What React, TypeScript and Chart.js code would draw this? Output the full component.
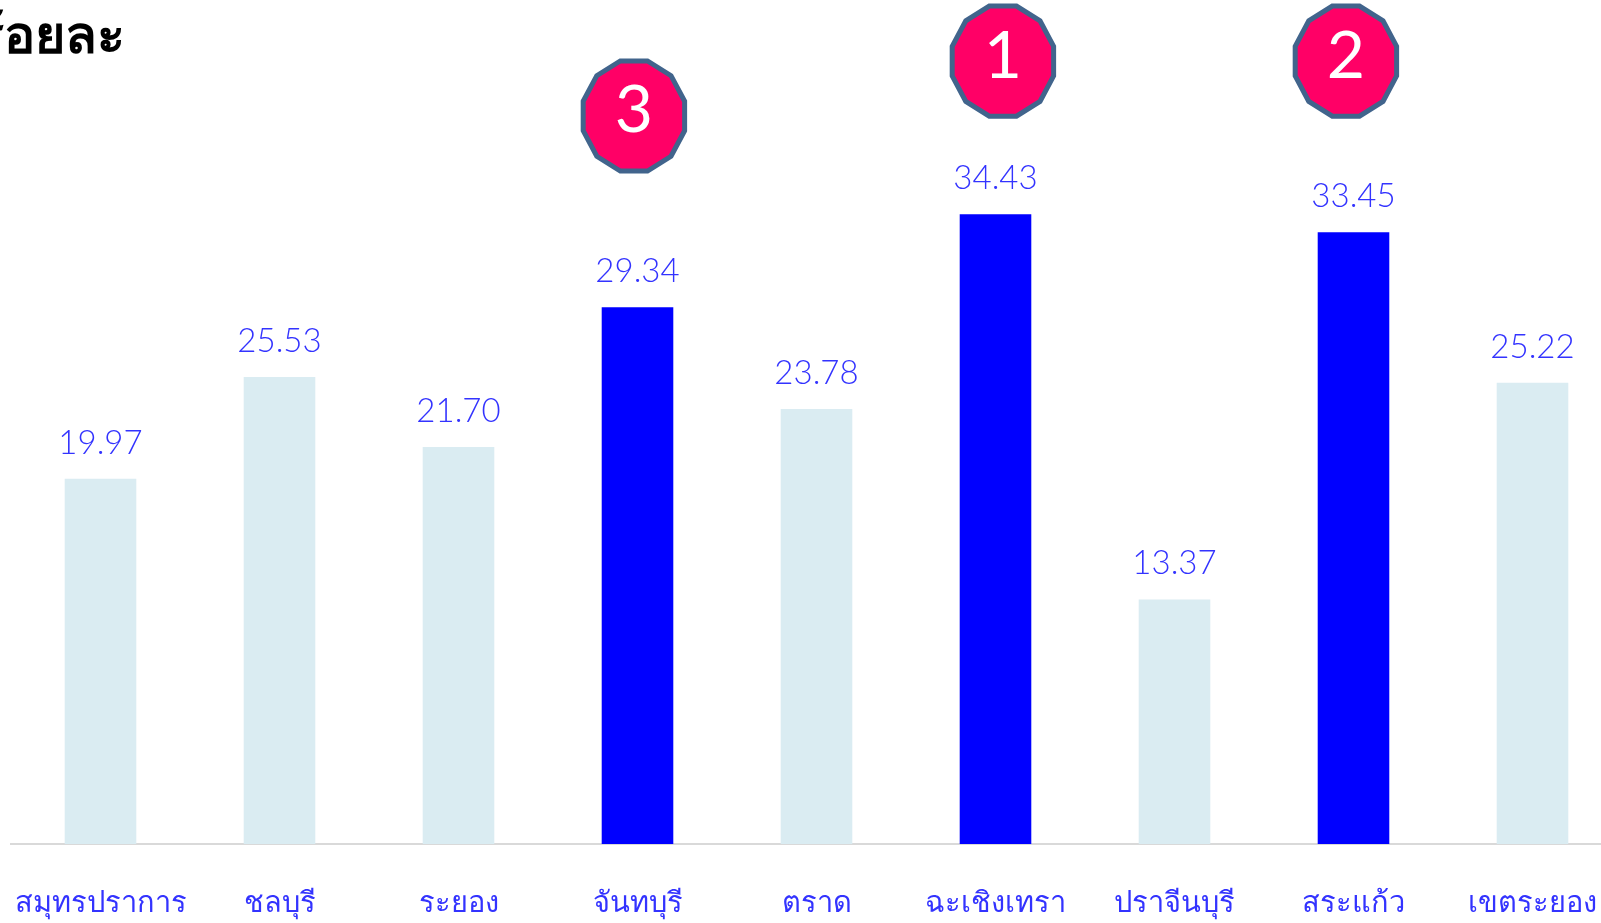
import React, { useEffect, useRef } from "react";
import { Chart, registerables } from "chart.js";

Chart.register(...registerables);

const categories = ["สมุทรปราการ", "ชลบุรี", "ระยอง", "จันทบุรี", "ตราด", "ฉะเชิงเทรา", "ปราจีนบุรี", "สระแก้ว", "เขตระยอง"];
const values = [19.97, 25.53, 21.7, 29.34, 23.78, 34.43, 13.37, 33.45, 25.22];
const highlighted = ["จันทบุรี", "ฉะเชิงเทรา", "สระแก้ว"];
const badgeCategories = ["จันทบุรี", "ฉะเชิงเทรา", "สระแก้ว"];
const badgeLabels = ["3", "1", "2"];
const badgeValues = [39.8, 42.8, 42.8];
const titleText = "ร้อยละ";

const LABEL_FONT = "Lato, Roboto, 'Noto Sans', sans-serif";

const overlay = {
  id: "overlay",
  afterDatasetsDraw(chart: any) {
    const { ctx, scales } = chart;
    const meta = chart.getDatasetMeta(0);
    ctx.save();
    // value labels
    ctx.font = `300 33px ${LABEL_FONT}`;
    ctx.fillStyle = "#3333ff";
    ctx.textAlign = "center";
    ctx.textBaseline = "alphabetic";
    meta.data.forEach((bar: any, i: number) => {
      ctx.fillText(values[i].toFixed(2), bar.x, bar.y - 25);
    });
    // rank badges
    const dx = [-3.6, 7.4, -7.6];
    badgeCategories.forEach((c, i) => {
      const x = scales.x.getPixelForValue(categories.indexOf(c)) + dx[i];
      const y = scales.y.getPixelForValue(badgeValues[i]);
      const rx = 52.5;
      const ry = 57;
      ctx.beginPath();
      for (let k = 0; k < 12; k++) {
        const a = Math.PI / 12 + (k * Math.PI) / 6;
        const px = x + rx * Math.cos(a);
        const py = y + ry * Math.sin(a);
        if (k === 0) ctx.moveTo(px, py);
        else ctx.lineTo(px, py);
      }
      ctx.closePath();
      ctx.fillStyle = "#ff0066";
      ctx.fill();
      ctx.lineWidth = 5;
      ctx.strokeStyle = "#41648c";
      ctx.stroke();
      ctx.fillStyle = "#ffffff";
      ctx.font = `400 66px ${LABEL_FONT}`;
      ctx.textAlign = "center";
      ctx.fillText(badgeLabels[i], x, y + 16.5);
    });
    // title
    ctx.fillStyle = "#000000";
    ctx.font = "bold 52px 'Noto Sans', sans-serif";
    ctx.textAlign = "right";
    ctx.fillText(titleText, 125, 53);
    ctx.restore();
  },
};

export default function App() {
  const ref = useRef<HTMLCanvasElement>(null);
  useEffect(() => {
    document.body.style.margin = "0";
    const chart = new Chart(ref.current!, {
      type: "bar",
      data: {
        labels: categories,
        datasets: [
          {
            data: values,
            backgroundColor: categories.map((c) => (highlighted.includes(c) ? "#0000ff" : "#daecf2")),
            barPercentage: 0.4,
            categoryPercentage: 1,
          },
        ],
      },
      options: {
        animation: false,
        responsive: false,
        layout: { padding: { left: 11, right: 0, top: 0, bottom: 0 } },
        plugins: { legend: { display: false }, tooltip: { enabled: false } },
        scales: {
          x: {
            grid: { display: false, drawTicks: false },
            border: { color: "#d9d9d9", width: 2 },
            afterFit: (s: any) => {
              s.height = 79;
              s.paddingLeft = 0;
              s.paddingRight = 0;
            },
            ticks: {
              autoSkip: false,
              maxRotation: 0,
              minRotation: 0,
              padding: 42,
              color: "#3333ff",
              font: { family: "'Noto Sans', sans-serif", size: 29, weight: "300" },
            },
          },
          y: { display: false, min: 0, max: 46.14 },
        },
      },
      plugins: [overlay],
    });
    return () => chart.destroy();
  }, []);
  return (
    <div style={{ width: 1601, height: 923, overflow: "hidden" }}>
      <canvas ref={ref} width={1622} height={923} style={{ display: "block" }} />
    </div>
  );
}
